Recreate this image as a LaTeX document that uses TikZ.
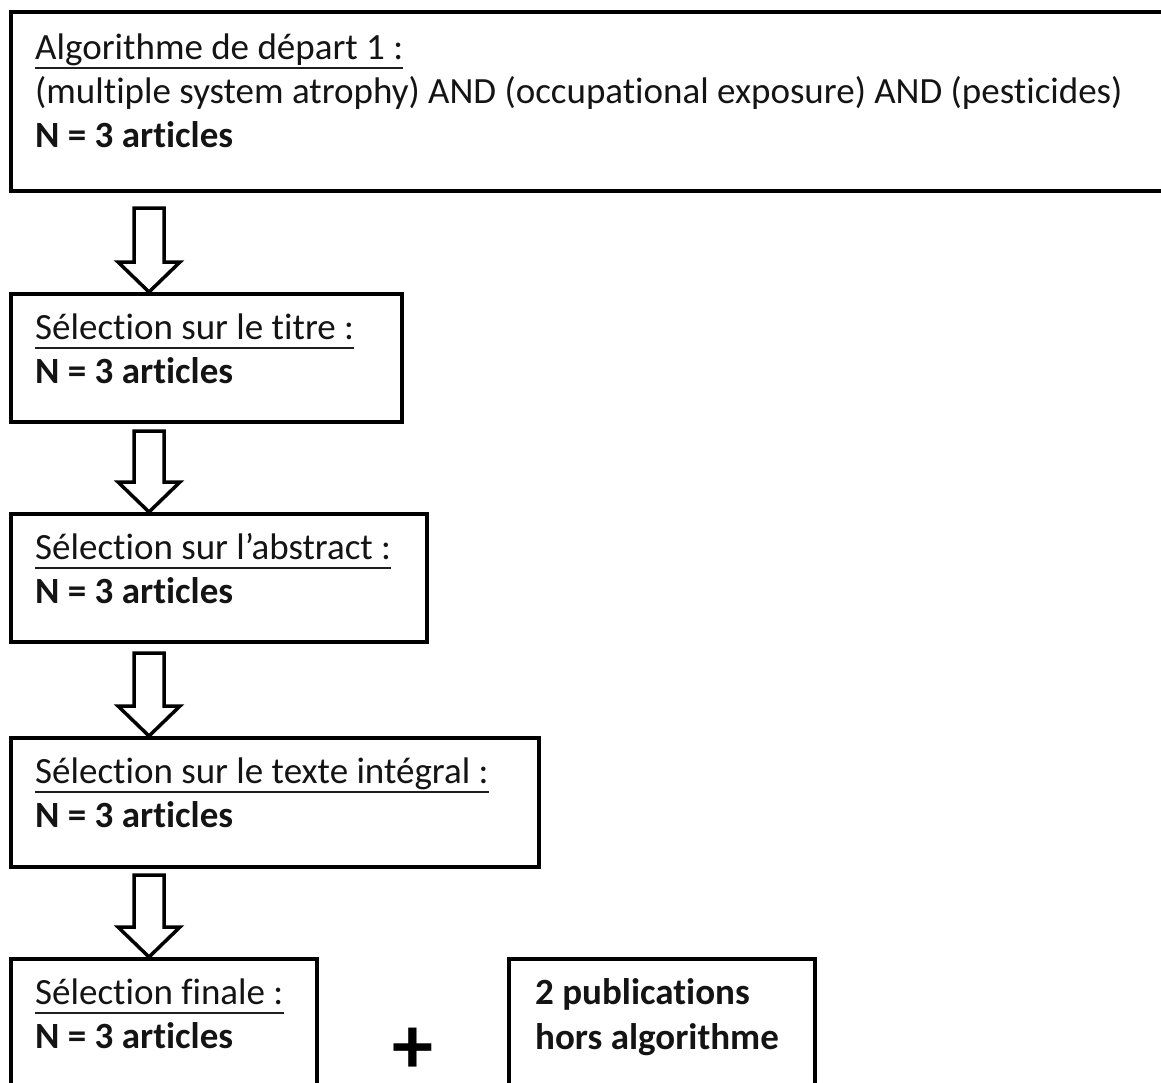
\documentclass[tikz,border=0pt]{standalone}
\usepackage{fontspec}
\setmainfont[Ligatures=NoCommon]{Carlito}
\begin{document}
\begin{tikzpicture}[x=1pt,y=-1pt,
  box/.style={draw=black, line width=3.5pt, rectangle, inner sep=0pt, anchor=north west},
  txt/.style={inner sep=0pt, anchor=base west, text=black!92, font=\fontsize{37}{44}\selectfont},
  btxt/.style={txt, font=\fontsize{37}{44}\selectfont\bfseries},
  uline/.style={line width=2pt, black!88},
  arrowline/.style={draw=black, line width=3.5pt, line join=miter, fill=white},
  pics/barrow/.style={code={\draw[arrowline] (-15,-#1) -- (15,-#1) -- (15,-30) -- (31,-30) -- (0,0) -- (-31,-30) -- (-15,-30) -- cycle;}}
]
\useasboundingbox (0,0) rectangle (1161,1082);

% boxes
\node[box, minimum width=1170, minimum height=179] (b1) at (9,10) {};
\node[box, minimum width=391, minimum height=128] (b2) at (9,292) {};
\node[box, minimum width=416, minimum height=128] (b3) at (9,512) {};
\node[box, minimum width=528, minimum height=129] (b4) at (9,736) {};
\node[box, minimum width=306, minimum height=160] (b5) at (9,957) {};
\node[box, minimum width=306, minimum height=160] (b6) at (507,957) {};

% texts box 1
\node[txt] (t1a) at (35,59) {Algorithme de départ 1 :};
\draw[uline] ([yshift=-9]t1a.base west) -- ([yshift=-9]t1a.base east);
\node[txt] (t1b) at (35,103) {(multiple system atrophy) AND (occupational exposure) AND (pesticides)};
\node[btxt] (t1c) at (35,147) {N = 3 articles};

% box 2
\node[txt] (t2a) at (35,339) {Sélection sur le titre :};
\draw[uline] ([yshift=-9]t2a.base west) -- ([yshift=-9]t2a.base east);
\node[btxt] (t2b) at (35,383) {N = 3 articles};

% box 3
\node[txt] (t3a) at (35,559) {Sélection sur l’abstract :};
\draw[uline] ([yshift=-9]t3a.base west) -- ([yshift=-9]t3a.base east);
\node[btxt] (t3b) at (35,603) {N = 3 articles};

% box 4
\node[txt] (t4a) at (35,783) {Sélection sur le texte intégral :};
\draw[uline] ([yshift=-9]t4a.base west) -- ([yshift=-9]t4a.base east);
\node[btxt] (t4b) at (35,827) {N = 3 articles};

% box 5
\node[txt] (t5a) at (35,1004) {Sélection finale :};
\draw[uline] ([yshift=-9]t5a.base west) -- ([yshift=-9]t5a.base east);
\node[btxt] (t5b) at (35,1048) {N = 3 articles};

% box 6
\node[btxt] (t6a) at (535,1004) {2 publications};
\node[btxt] (t6b) at (535,1049) {hors algorithme};

% plus
\node[inner sep=0pt, font=\fontsize{82}{82}\selectfont\bfseries] (plus) at (413,1051) {+};

% block arrows (tips on the next box)
\coordinate (a1) at ([xshift=140]b2.north west);
\coordinate (a2) at ([xshift=140]b3.north west);
\coordinate (a3) at ([xshift=140]b4.north west);
\coordinate (a4) at ([xshift=140]b5.north west);
\pic at (a1) {barrow=84};
\pic at (a2) {barrow=81};
\pic at (a3) {barrow=83};
\pic at (a4) {barrow=82};
\end{tikzpicture}
\end{document}
